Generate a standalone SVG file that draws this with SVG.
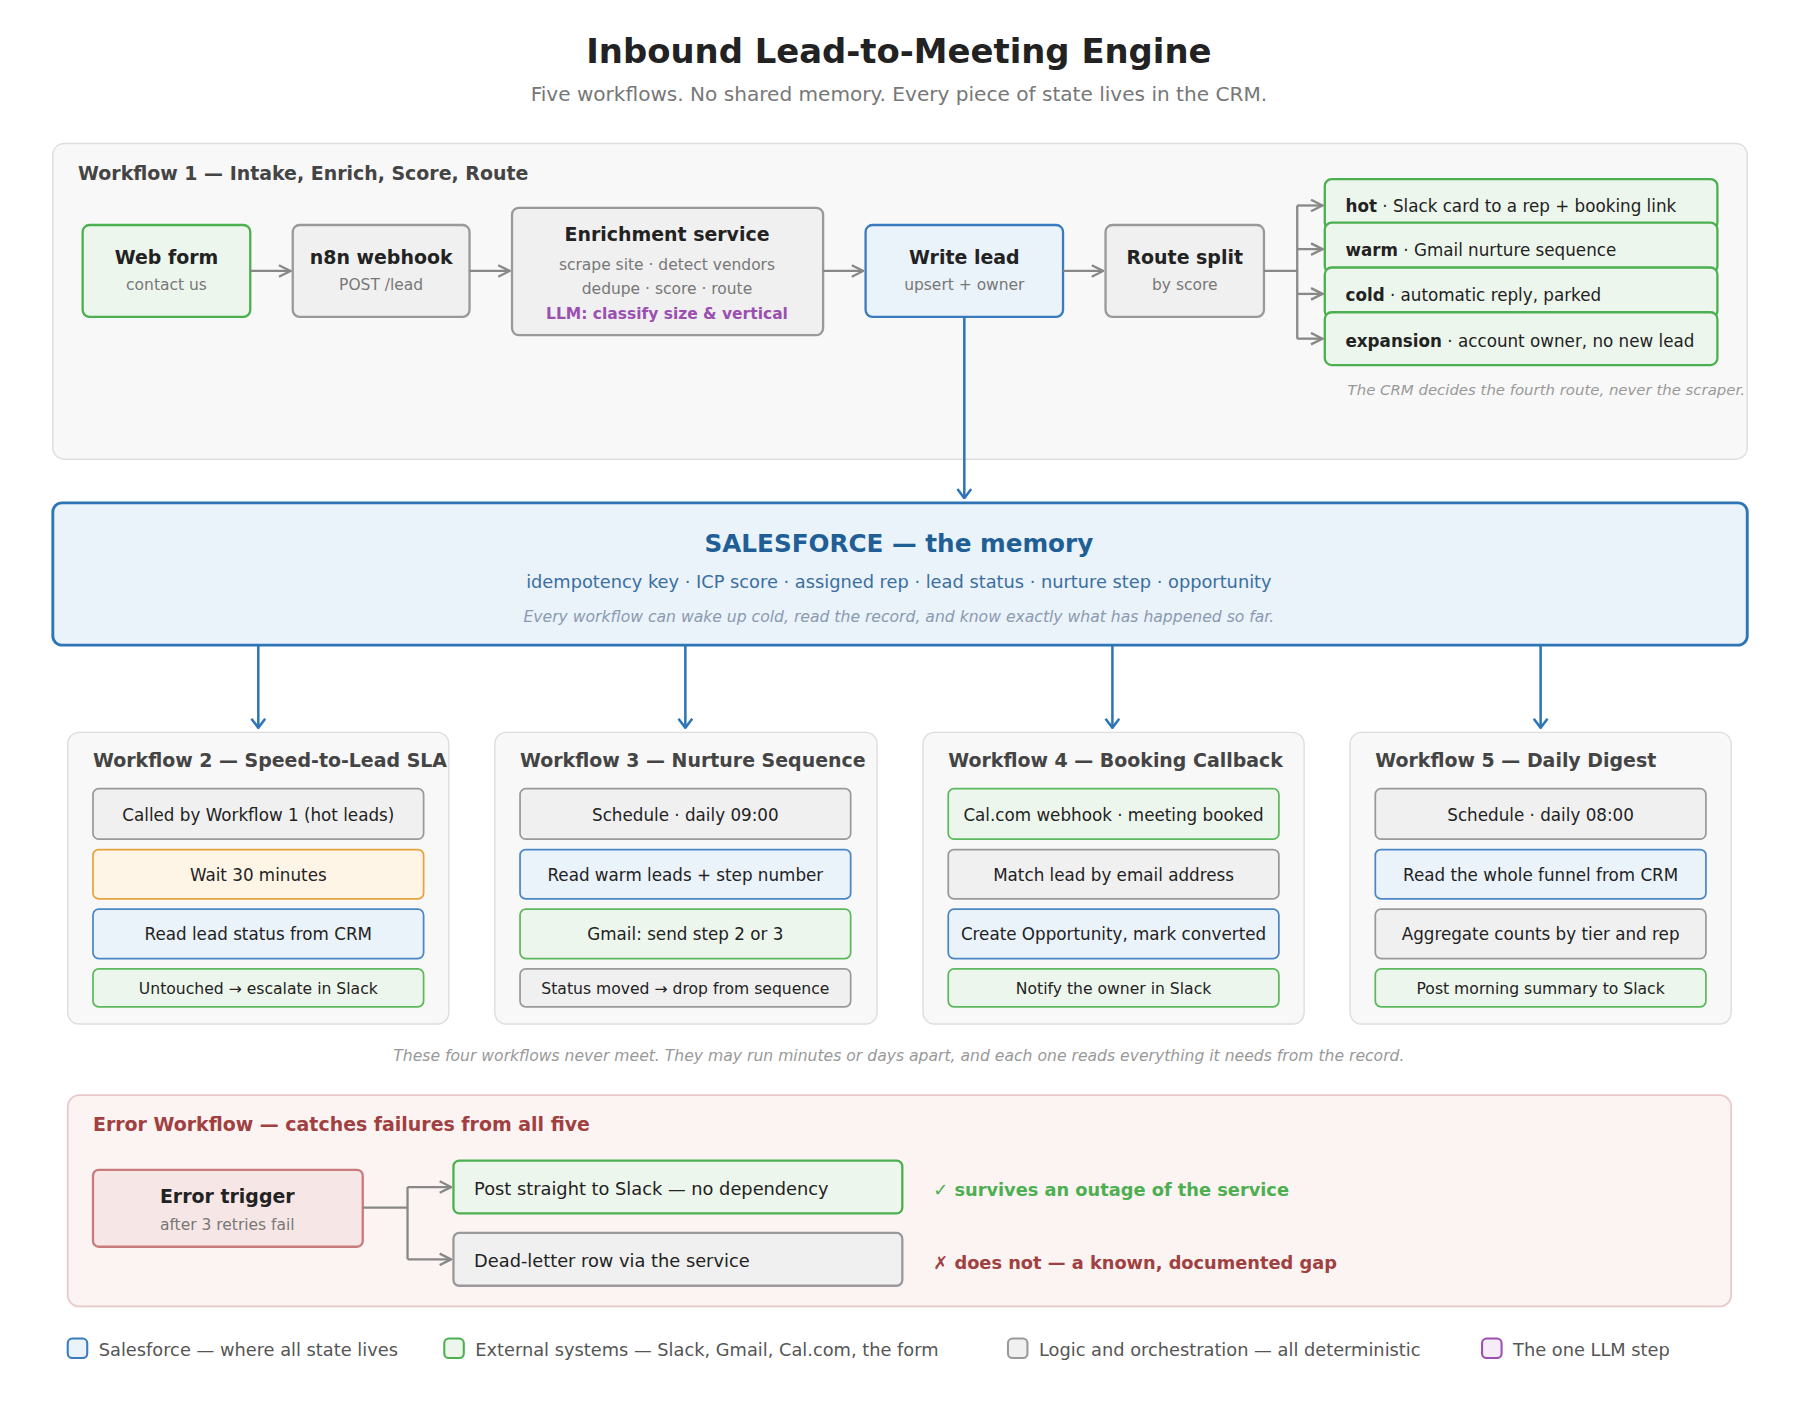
<svg xmlns="http://www.w3.org/2000/svg" width="1800" height="1425" viewBox="0 0 1800 1425">
<defs>
<style>
text{font-family:"DejaVu Sans","Liberation Sans",sans-serif;}
.t{font-weight:bold;fill:#222;font-size:16.5px;text-anchor:middle}
.s{fill:#777;font-size:13.5px;text-anchor:middle}
.ph{font-weight:bold;fill:#444;font-size:16.5px}
.bx{font-size:14.6px;fill:#222;text-anchor:middle}
.bs{font-size:13.6px;fill:#222;text-anchor:middle}
.g{fill:#edf6ec;stroke:#4caf50;stroke-width:2}
.gr{fill:#f0f0f0;stroke:#999;stroke-width:2}
.b{fill:#eaf2fa;stroke:#3a7bbf;stroke-width:2}
.o{fill:#fff5e6;stroke:#e6a23c;stroke-width:1.5}
.g1{fill:#edf6ec;stroke:#5cb85c;stroke-width:1.5}
.gr1{fill:#f0f0f0;stroke:#999;stroke-width:1.5}
.b1{fill:#eaf2fa;stroke:#4a86c5;stroke-width:1.5}
.pn{fill:#f8f8f8;stroke:#ddd;stroke-width:1.2}
.c{fill:none;stroke:#888;stroke-width:2}
.cb{fill:none;stroke:#2e75b6;stroke-width:2.2}
</style>
<marker id="ag" viewBox="0 0 12 12" refX="11" refY="6" markerWidth="12" markerHeight="12" markerUnits="userSpaceOnUse" orient="auto"><path d="M1,1 L11,6 L1,11" fill="none" stroke="#888" stroke-width="2"/></marker>
<marker id="ab" viewBox="0 0 14 14" refX="7" refY="13" markerWidth="14" markerHeight="14" markerUnits="userSpaceOnUse" orient="0"><path d="M1,5 L7,13 L13,5" fill="none" stroke="#2e75b6" stroke-width="2.2"/></marker>
</defs>
<rect width="1800" height="1425" fill="#fff"/>
<g transform="scale(1.148)">
<text x="783" y="55" style="font-size:29.5px;font-weight:bold;fill:#222;text-anchor:middle">Inbound Lead-to-Meeting Engine</text>
<text x="783" y="88" style="font-size:17.5px;fill:#777;text-anchor:middle">Five workflows. No shared memory. Every piece of state lives in the CRM.</text>

<g id="wf1">
<rect class="pn" x="46" y="125" width="1476" height="275" rx="10"/>
<text class="ph" x="68" y="157">Workflow 1 — Intake, Enrich, Score, Route</text>
<text x="1520" y="344" style="font-size:13px;fill:#999;font-style:italic;text-anchor:end">The CRM decides the fourth route, never the scraper.</text>
</g>
<g id="webform"><rect class="g" x="72" y="196" width="146" height="80" rx="6"/><text class="t" x="145" y="230">Web form</text><text class="s" x="145" y="253">contact us</text></g>
<g id="webhook"><rect class="gr" x="255" y="196" width="154" height="80" rx="6"/><text class="t" x="332" y="230">n8n webhook</text><text class="s" x="332" y="253">POST /lead</text></g>
<g id="enrich"><rect class="gr" x="446" y="181" width="271" height="111" rx="6"/><text class="t" x="581" y="210">Enrichment service</text><text class="s" x="581" y="235">scrape site · detect vendors</text><text class="s" x="581" y="256">dedupe · score · route</text><text x="581" y="278" style="font-size:13.5px;font-weight:bold;fill:#9b4fb0;text-anchor:middle">LLM: classify size &amp; vertical</text></g>
<g id="writelead"><rect class="b" x="754" y="196" width="172" height="80" rx="6"/><text class="t" x="840" y="230">Write lead</text><text class="s" x="840" y="253">upsert + owner</text></g>
<g id="routesplit"><rect class="gr" x="963" y="196" width="138" height="80" rx="6"/><text class="t" x="1032" y="230">Route split</text><text class="s" x="1032" y="253">by score</text></g>
<g id="hot"><rect class="g" x="1154" y="156" width="342" height="44" rx="6"/><text x="1172" y="185" style="font-size:14.6px;fill:#222"><tspan font-weight="bold">hot</tspan> · Slack card to a rep + booking link</text></g>
<g id="warm"><rect class="g" x="1154" y="194" width="342" height="44" rx="6"/><text x="1172" y="223" style="font-size:14.6px;fill:#222"><tspan font-weight="bold">warm</tspan> · Gmail nurture sequence</text></g>
<g id="cold"><rect class="g" x="1154" y="233" width="342" height="44" rx="6"/><text x="1172" y="262" style="font-size:14.6px;fill:#222"><tspan font-weight="bold">cold</tspan> · automatic reply, parked</text></g>
<g id="expansion"><rect class="g" x="1154" y="272" width="342" height="46" rx="6"/><text x="1172" y="302" style="font-size:14.6px;fill:#222"><tspan font-weight="bold">expansion</tspan> · account owner, no new lead</text></g>

<g id="salesforce">
<rect x="46" y="438" width="1476" height="124" rx="8" fill="#eaf2fa" stroke="#2e75b6" stroke-width="2.5"/>
<text x="783" y="481" style="font-size:21.5px;font-weight:bold;fill:#1f5f95;text-anchor:middle">SALESFORCE — the memory</text>
<text x="783" y="512" style="font-size:15.5px;fill:#3a6fa0;text-anchor:middle">idempotency key · ICP score · assigned rep · lead status · nurture step · opportunity</text>
<text x="783" y="542" style="font-size:13.6px;fill:#8a9ab0;font-style:italic;text-anchor:middle">Every workflow can wake up cold, read the record, and know exactly what has happened so far.</text>
</g>

<g id="wf2">
<rect class="pn" x="59" y="638" width="332" height="254" rx="10"/>
<text class="ph" x="81" y="668">Workflow 2 — Speed-to-Lead SLA</text>
<rect class="gr1" x="81" y="687" width="288" height="44" rx="5"/><text class="bx" x="225" y="715">Called by Workflow 1 (hot leads)</text>
<rect class="o" x="81" y="740" width="288" height="43" rx="5"/><text class="bx" x="225" y="767">Wait 30 minutes</text>
<rect class="b1" x="81" y="792" width="288" height="43" rx="5"/><text class="bx" x="225" y="819">Read lead status from CRM</text>
<rect class="g1" x="81" y="844" width="288" height="33" rx="5"/><text class="bs" x="225" y="866">Untouched → escalate in Slack</text>
</g>
<g id="wf3">
<rect class="pn" x="431" y="638" width="333" height="254" rx="10"/>
<text class="ph" x="453" y="668">Workflow 3 — Nurture Sequence</text>
<rect class="gr1" x="453" y="687" width="288" height="44" rx="5"/><text class="bx" x="597" y="715">Schedule · daily 09:00</text>
<rect class="b1" x="453" y="740" width="288" height="43" rx="5"/><text class="bx" x="597" y="767">Read warm leads + step number</text>
<rect class="g1" x="453" y="792" width="288" height="43" rx="5"/><text class="bx" x="597" y="819">Gmail: send step 2 or 3</text>
<rect class="gr1" x="453" y="844" width="288" height="33" rx="5"/><text class="bs" x="597" y="866">Status moved → drop from sequence</text>
</g>
<g id="wf4">
<rect class="pn" x="804" y="638" width="332" height="254" rx="10"/>
<text class="ph" x="826" y="668">Workflow 4 — Booking Callback</text>
<rect class="g1" x="826" y="687" width="288" height="44" rx="5"/><text class="bx" x="970" y="715">Cal.com webhook · meeting booked</text>
<rect class="gr1" x="826" y="740" width="288" height="43" rx="5"/><text class="bx" x="970" y="767">Match lead by email address</text>
<rect class="b1" x="826" y="792" width="288" height="43" rx="5"/><text class="bx" x="970" y="819">Create Opportunity, mark converted</text>
<rect class="g1" x="826" y="844" width="288" height="33" rx="5"/><text class="bs" x="970" y="866">Notify the owner in Slack</text>
</g>
<g id="wf5">
<rect class="pn" x="1176" y="638" width="332" height="254" rx="10"/>
<text class="ph" x="1198" y="668">Workflow 5 — Daily Digest</text>
<rect class="gr1" x="1198" y="687" width="288" height="44" rx="5"/><text class="bx" x="1342" y="715">Schedule · daily 08:00</text>
<rect class="b1" x="1198" y="740" width="288" height="43" rx="5"/><text class="bx" x="1342" y="767">Read the whole funnel from CRM</text>
<rect class="gr1" x="1198" y="792" width="288" height="43" rx="5"/><text class="bx" x="1342" y="819">Aggregate counts by tier and rep</text>
<rect class="g1" x="1198" y="844" width="288" height="33" rx="5"/><text class="bs" x="1342" y="866">Post morning summary to Slack</text>
</g>
<text x="783" y="924" style="font-size:13.6px;fill:#999;font-style:italic;text-anchor:middle">These four workflows never meet. They may run minutes or days apart, and each one reads everything it needs from the record.</text>

<g id="errwf">
<rect x="59" y="954" width="1449" height="184" rx="10" fill="#fcf3f3" stroke="#e8c8c8" stroke-width="1.5"/>
<text x="81" y="985" style="font-size:16.5px;font-weight:bold;fill:#a04040">Error Workflow — catches failures from all five</text>
<text x="813" y="1042" style="font-size:15.5px;font-weight:bold;fill:#4caf50">✓ survives an outage of the service</text>
<text x="813" y="1105" style="font-size:15.5px;font-weight:bold;fill:#a04040">✗ does not — a known, documented gap</text>
</g>
<g id="errtrigger"><rect x="81" y="1019" width="235" height="67" rx="5" fill="#f7e6e6" stroke="#c97b7b" stroke-width="2"/><text class="t" x="198" y="1048">Error trigger</text><text class="s" x="198" y="1071">after 3 retries fail</text></g>
<g id="poststraight"><rect class="g" x="395" y="1011" width="391" height="46" rx="5"/><text x="413" y="1041" style="font-size:15.5px;fill:#222">Post straight to Slack — no dependency</text></g>
<g id="deadletter"><rect class="gr" x="395" y="1074" width="391" height="46" rx="5"/><text x="413" y="1104" style="font-size:15.5px;fill:#222">Dead-letter row via the service</text></g>

<g id="connectors">
<line class="c" x1="218" y1="236" x2="253" y2="236" marker-end="url(#ag)"/>
<line class="c" x1="409" y1="236" x2="444" y2="236" marker-end="url(#ag)"/>
<line class="c" x1="717" y1="236" x2="752" y2="236" marker-end="url(#ag)"/>
<line class="c" x1="926" y1="236" x2="961" y2="236" marker-end="url(#ag)"/>
<path class="c" d="M1101,236 H1130 M1130,179 V295"/>
<line class="c" x1="1130" y1="179" x2="1152" y2="179" marker-end="url(#ag)"/>
<line class="c" x1="1130" y1="217" x2="1152" y2="217" marker-end="url(#ag)"/>
<line class="c" x1="1130" y1="256" x2="1152" y2="256" marker-end="url(#ag)"/>
<line class="c" x1="1130" y1="295" x2="1152" y2="295" marker-end="url(#ag)"/>
<line class="cb" x1="840" y1="276" x2="840" y2="434" marker-end="url(#ab)"/>
<line class="cb" x1="225" y1="562" x2="225" y2="634" marker-end="url(#ab)"/>
<line class="cb" x1="597" y1="562" x2="597" y2="634" marker-end="url(#ab)"/>
<line class="cb" x1="969" y1="562" x2="969" y2="634" marker-end="url(#ab)"/>
<line class="cb" x1="1342" y1="562" x2="1342" y2="634" marker-end="url(#ab)"/>
<path class="c" d="M316,1052 H355 M355,1034 V1097"/>
<line class="c" x1="355" y1="1034" x2="393" y2="1034" marker-end="url(#ag)"/>
<line class="c" x1="355" y1="1097" x2="393" y2="1097" marker-end="url(#ag)"/>
</g>

<g id="legend" style="font-size:15.5px">
<rect x="59" y="1166" width="17" height="17" rx="4" fill="#eaf2fa" stroke="#3a7bbf" stroke-width="1.8"/><text x="86" y="1181" fill="#555">Salesforce — where all state lives</text>
<rect x="387" y="1166" width="17" height="17" rx="4" fill="#edf6ec" stroke="#4caf50" stroke-width="1.8"/><text x="414" y="1181" fill="#555">External systems — Slack, Gmail, Cal.com, the form</text>
<rect x="878" y="1166" width="17" height="17" rx="4" fill="#f0f0f0" stroke="#999" stroke-width="1.8"/><text x="905" y="1181" fill="#555">Logic and orchestration — all deterministic</text>
<rect x="1291" y="1166" width="17" height="17" rx="4" fill="#f5ecf8" stroke="#9b4fb0" stroke-width="1.8"/><text x="1318" y="1181" fill="#555">The one LLM step</text>
</g>
</g>
</svg>
